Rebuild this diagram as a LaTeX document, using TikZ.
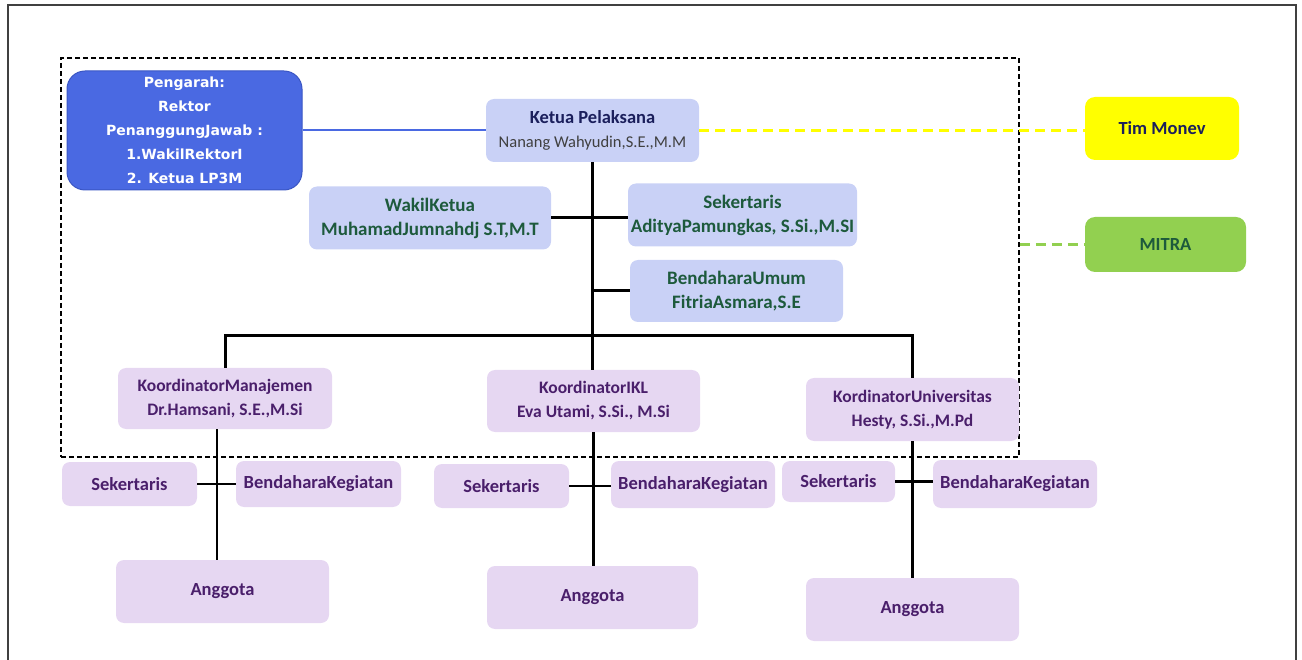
\documentclass[tikz,border=0pt]{standalone}
\usepackage{fontspec}
\setmainfont{Carlito}
\newfontfamily\dejavu{DejaVu Sans}
\definecolor{pengfill}{HTML}{4A69E2}
\definecolor{pengdraw}{HTML}{3A56C4}
\definecolor{lblue}{HTML}{C9D1F6}
\definecolor{lav}{HTML}{E6D7F2}
\definecolor{gtext}{HTML}{1D5A3C}
\definecolor{ptext}{HTML}{4A1F6B}
\definecolor{ntext}{HTML}{1B1F5C}
\definecolor{mitragreen}{HTML}{92D050}
\definecolor{monev}{HTML}{FFFF00}
\definecolor{frameline}{HTML}{404040}
\begin{document}
\begin{tikzpicture}[x=1pt,y=-1pt,
  box/.style={rectangle, rounded corners=8pt, inner sep=0pt, align=center},
  bluebox/.style={box, fill=lblue, text=gtext, font=\bfseries\fontsize{19}{24}\selectfont},
  purplebox/.style={box, fill=lav, text=ptext, font=\bfseries\fontsize{17.5}{24}\selectfont},
  lowbox/.style={purplebox, font=\bfseries\fontsize{18.5}{24}\selectfont},
  link/.style={line width=3pt, black},
  sublink/.style={line width=2.5pt, black}]
\useasboundingbox (0,0) rectangle (1302,660);
% outer frame
\draw[frameline, line width=1.5pt] (8,660) -- (8,5) -- (1296,5) -- (1296,660);
% dashed frame
\node[draw, dashed, dash pattern=on 5pt off 3pt, line width=1.5pt, inner sep=0pt,
  minimum width=958pt, minimum height=399pt] (frame) at (540,257.5) {};

% top level
\node[box, rounded corners=18pt, fill=pengfill, draw=pengdraw, line width=1pt, text=white,
  minimum width=235pt, minimum height=119pt,
  font=\dejavu\bfseries\fontsize{14}{24}\selectfont] (peng) at (184.5,130.5)
  {Pengarah:\\Rektor\\PenanggungJawab :\\1.WakilRektorI\\2. Ketua LP3M};
\node[box, fill=lblue, minimum width=213pt, minimum height=63pt, text=ntext,
  font=\fontsize{16.5}{24}\selectfont] (ketua) at (592.5,130.5)
  {{\fontsize{18.5}{24}\selectfont\bfseries Ketua Pelaksana}\\\color{black!75}Nanang Wahyudin,S.E.,M.M};
\node[bluebox, minimum width=242pt, minimum height=63pt] (wakil) at (430,218)
  {WakilKetua\\MuhamadJumnahdj S.T,M.T};
\node[bluebox, minimum width=229pt, minimum height=63pt] (sek) at (742.5,215)
  {Sekertaris\\AdityaPamungkas, S.Si.,M.SI};
\node[bluebox, minimum width=213pt, minimum height=62pt] (bend) at (736.5,291)
  {BendaharaUmum\\FitriaAsmara,S.E};

% coordinators
\node[purplebox, minimum width=214pt, minimum height=61pt] (km) at (225,398.5)
  {KoordinatorManajemen\\Dr.Hamsani, S.E.,M.Si};
\node[purplebox, minimum width=213pt, minimum height=62pt] (kikl) at (593.5,401)
  {KoordinatorIKL\\Eva Utami, S.Si., M.Si};
\node[purplebox, minimum width=213pt, minimum height=63pt] (ku) at (912.5,409.5)
  {KordinatorUniversitas\\Hesty, S.Si.,M.Pd};

% lower level
\node[lowbox, minimum width=135pt, minimum height=44pt] (s1) at (129.5,484) {Sekertaris};
\node[lowbox, minimum width=165pt, minimum height=46pt] (b1) at (318.5,484) {BendaharaKegiatan};
\node[lowbox, minimum width=213pt, minimum height=63pt] (a1) at (222.5,591.5) {Anggota};
\node[lowbox, minimum width=135pt, minimum height=44pt] (s2) at (501.5,486) {Sekertaris};
\node[lowbox, minimum width=164pt, minimum height=47pt] (b2) at (693,484.5) {BendaharaKegiatan};
\node[lowbox, minimum width=211pt, minimum height=63pt] (a2) at (592.5,597.5) {Anggota};
\node[lowbox, minimum width=113pt, minimum height=41pt] (s3) at (838.5,481.5) {Sekertaris};
\node[lowbox, minimum width=164pt, minimum height=48pt] (b3) at (1015,484) {BendaharaKegiatan};
\node[lowbox, minimum width=213pt, minimum height=63pt] (a3) at (912.5,609.5) {Anggota};

% side boxes
\node[box, rounded corners=10pt, fill=monev, text=ntext, minimum width=154pt, minimum height=63pt,
  font=\bfseries\fontsize{18.5}{24}\selectfont] (tim) at (1162,128.5) {Tim Monev};
\node[box, rounded corners=10pt, fill=mitragreen, text=gtext, minimum width=161pt, minimum height=55pt,
  font=\bfseries\fontsize{18.5}{24}\selectfont] (mitra) at (1165.5,244.5) {MITRA};

% connectors
\draw[pengfill, line width=2pt] (peng.east) -- (ketua.west);
\draw[monev, line width=3pt, dash pattern=on 10pt off 6pt] (ketua.east) -- (ketua.east -| tim.west);
\draw[mitragreen, line width=3pt, dash pattern=on 10pt off 6pt] (frame.east |- mitra.west) -- (mitra.west);
\draw[link] (ketua.south) -- (ketua.south |- kikl.north);
\draw[link] (wakil.east) -- (wakil.east -| sek.west);
\draw[link] (ketua.south |- bend.west) -- (bend.west);
\coordinate (busy) at (0,336);
\draw[link] (km.north) -- (km.north |- busy) -| (ku.north);
\draw[sublink] ([xshift=-8pt]km.south) -- ([xshift=-8pt]km.south |- a1.north);
\draw[sublink] (s1.east) -- (b1.west);
\draw[sublink] (kikl.south) -- (kikl.south |- a2.north);
\draw[sublink] (s2.east) -- (s2.east -| b2.west);
\draw[sublink] (ku.south) -- (ku.south |- a3.north);
\draw[sublink] (s3.east) -- (s3.east -| b3.west);
\end{tikzpicture}
\end{document}
